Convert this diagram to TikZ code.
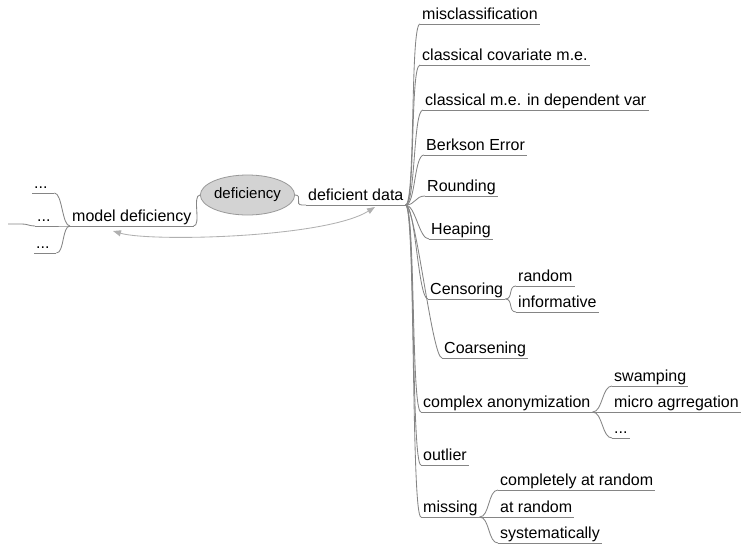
\documentclass[tikz,border=0pt]{standalone}
\usepackage{fontspec}
\setmainfont{Liberation Sans}
\usetikzlibrary{shapes.geometric,arrows.meta}
\definecolor{linegray}{HTML}{858585}
\definecolor{arrgray}{HTML}{B0B0B0}
\definecolor{ellfill}{HTML}{D3D3D3}
\definecolor{ellline}{HTML}{999999}
\tikzset{
  leaf/.style={anchor=south west, inner xsep=2pt, inner ysep=4pt,
    text height=11.5pt, text depth=0pt, font=\fontsize{16}{19}\selectfont},
  dots/.style={leaf, text width=18pt, align=left},
  edge/.style={draw=linegray, line width=0.85pt},
  center/.style={ellipse, draw=ellline, fill=ellfill, line width=0.8pt,
    minimum width=79pt, minimum height=40pt, inner sep=0pt,
    font=\fontsize{15}{18}\selectfont},
  link/.style={draw=arrgray, line width=0.85pt,
    {Triangle[length=8pt,width=6pt]}-{Triangle[length=8pt,width=6pt]}}
}
\begin{document}
\begin{tikzpicture}[x=1pt,y=-1pt]
\useasboundingbox (0,0) rectangle (741,544);
% center and level 1
\node[center] (def) at (247.5,195) {deficiency};
\node[leaf] (md) at (70,226) {model deficiency};
\node[leaf] (dd) at (306,205) {deficient data};
% left children
\node[dots] (l1) at (32,193) {...};
\node[dots] (l2) at (35,226) {...};
\node[dots] (l3) at (34,253) {...};
\coordinate (lstub) at (8,224);
% right children
\node[leaf] (c1) at (420,24) {misclassification};
\node[leaf] (c2) at (420,65) {classical covariate m.e.};
\node[leaf] (c3) at (423,110) {classical m.e. in dependent var};
\node[leaf] (c4) at (424,155) {Berkson Error};
\node[leaf] (c5) at (425,196) {Rounding};
\node[leaf] (c6) at (429,239) {Heaping};
\node[leaf] (c7) at (428,299) {Censoring};
\node[leaf] (c8) at (442,358) {Coarsening};
\node[leaf] (c9) at (421,412) {complex anonymization};
\node[leaf] (c10) at (421,465) {outlier};
\node[leaf] (c11) at (421,517) {missing};
% grandchildren
\node[leaf] (g71) at (516,286) {random};
\node[leaf] (g72) at (516,312) {informative};
\node[leaf] (g91) at (612,386) {swamping};
\node[leaf] (g92) at (612,412) {micro agrregation};
\node[leaf] (g93) at (612,438) {...};
\node[leaf] (g111) at (498,490) {completely at random};
\node[leaf] (g112) at (498,517) {at random};
\node[leaf] (g113) at (498,543) {systematically};
% underlines
\foreach \n in {md,dd,l1,l2,l3,c1,c2,c3,c4,c5,c6,c7,c8,c9,c10,c11,g71,g72,g91,g92,g93,g111,g112,g113}
  \draw[edge] (\n.south west) -- (\n.south east);
% center connections
\draw[edge] (md.south east) .. controls +(8,0) and +(-8,0) .. (def.west);
\draw[edge] (def.east) .. controls +(8,0) and +(-8,0) .. ([xshift=-4pt]dd.south west) -- (dd.south west);
% left side
\foreach \n in {l1,l2,l3}
  \draw[edge] (\n.south east) .. controls +(8,0) and +(-8,0) .. (md.south west);
\draw[edge] (lstub) -- (22,224) .. controls (28,224) and (29,226) .. (l2.south west);
% right side
\foreach \n in {c1,c2,c3,c4,c5,c6,c7,c8,c9,c10,c11}
  \draw[edge] (dd.south east) .. controls +(10,0) and +(-10,0) .. (\n.south west);
\foreach \n in {g71,g72}
  \draw[edge] (c7.south east) .. controls +(8,0) and +(-8,0) .. (\n.south west);
\foreach \n in {g91,g92,g93}
  \draw[edge] (c9.south east) .. controls +(10,0) and +(-10,0) .. (\n.south west);
\foreach \n in {g111,g112,g113}
  \draw[edge] (c11.south east) .. controls +(10,0) and +(-10,0) .. (\n.south west);
% gray link arrow
\coordinate (arrA) at (113,231);
\coordinate (arrB) at (375,207);
\draw[link] (arrA) .. controls (150,242) and (325,238) .. (arrB);
\end{tikzpicture}
\end{document}
